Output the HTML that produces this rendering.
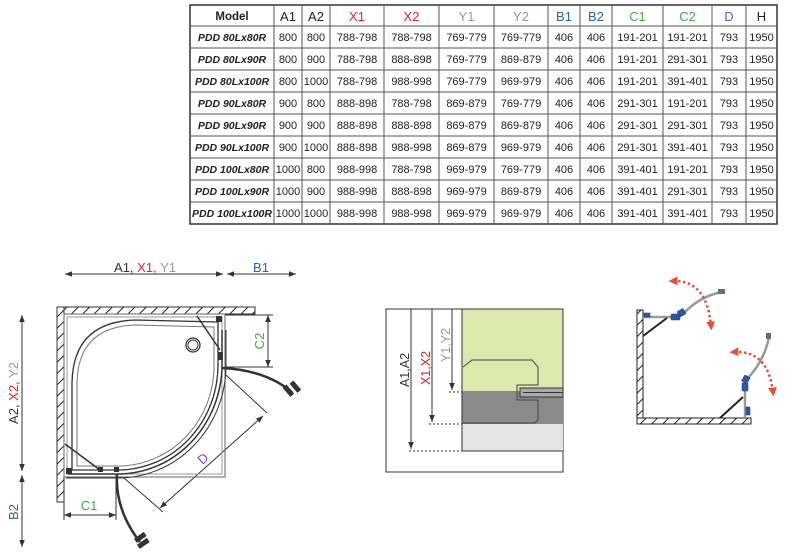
<!DOCTYPE html>
<html><head><meta charset="utf-8"><style>
html,body{margin:0;padding:0;background:#fff}
svg{display:block}
text{font-family:"Liberation Sans","DejaVu Sans",sans-serif}
</style></head><body>
<svg width="786" height="556" viewBox="0 0 786 556" xmlns="http://www.w3.org/2000/svg">
<defs>
<pattern id="hatch" width="8" height="8" patternUnits="userSpaceOnUse" patternTransform="rotate(45)">
<rect width="8" height="8" fill="#fff"/><line x1="0" y1="0" x2="0" y2="8" stroke="#222" stroke-width="2"/></pattern>
<marker id="ar" viewBox="0 0 10 10" refX="10" refY="5" markerWidth="7" markerHeight="7" orient="auto-start-reverse"><path d="M0,1 L10,5 L0,9 z" fill="#333"/></marker>
<marker id="rr" viewBox="0 0 10 10" refX="5" refY="5" markerUnits="userSpaceOnUse" markerWidth="9" markerHeight="9" orient="auto-start-reverse"><path d="M0,0 L10,5 L0,10 z" fill="#e0533f"/></marker>
</defs>

<!-- TABLE -->
<g stroke="#555" stroke-width="1" fill="none">
<rect x="190" y="5" width="587" height="219" stroke="#333" stroke-width="1.5"/>
<line x1="190" y1="26" x2="777" y2="26"/><line x1="190" y1="48" x2="777" y2="48"/>
<line x1="190" y1="70" x2="777" y2="70"/><line x1="190" y1="92" x2="777" y2="92"/>
<line x1="190" y1="114" x2="777" y2="114"/><line x1="190" y1="136" x2="777" y2="136"/>
<line x1="190" y1="158" x2="777" y2="158"/><line x1="190" y1="180" x2="777" y2="180"/>
<line x1="190" y1="202" x2="777" y2="202"/>
<line x1="274" y1="5" x2="274" y2="224"/><line x1="302" y1="5" x2="302" y2="224"/>
<line x1="330" y1="5" x2="330" y2="224"/><line x1="384" y1="5" x2="384" y2="224"/>
<line x1="439" y1="5" x2="439" y2="224"/><line x1="494" y1="5" x2="494" y2="224"/>
<line x1="548" y1="5" x2="548" y2="224"/><line x1="580" y1="5" x2="580" y2="224"/>
<line x1="612" y1="5" x2="612" y2="224"/><line x1="663" y1="5" x2="663" y2="224"/>
<line x1="712" y1="5" x2="712" y2="224"/><line x1="746" y1="5" x2="746" y2="224"/>
</g>
<g text-anchor="middle" font-size="13">
<text x="232" y="20" font-size="11.5" font-weight="bold" fill="#222">Model</text>
<text x="288" y="21" fill="#222">A1</text><text x="316" y="21" fill="#222">A2</text>
<text x="357" y="21" fill="#d9262b">X1</text><text x="411.5" y="21" fill="#d9262b">X2</text>
<text x="466.5" y="21" fill="#999">Y1</text><text x="521" y="21" fill="#999">Y2</text>
<text x="564" y="21" fill="#2a64b0">B1</text><text x="596" y="21" fill="#2a64b0">B2</text>
<text x="637.5" y="21" fill="#3bb03b">C1</text><text x="687.5" y="21" fill="#3bb03b">C2</text>
<text x="729" y="21" fill="#7b4fbf">D</text><text x="761.5" y="21" fill="#222">H</text>
</g>
<g text-anchor="middle" font-size="11" fill="#222">
<g font-weight="bold" font-style="italic" font-size="10.5">
<text x="232" y="41">PDD 80Lx80R</text><text x="232" y="63">PDD 80Lx90R</text><text x="232" y="85">PDD 80Lx100R</text>
<text x="232" y="107">PDD 90Lx80R</text><text x="232" y="129">PDD 90Lx90R</text><text x="232" y="151">PDD 90Lx100R</text>
<text x="232" y="173">PDD 100Lx80R</text><text x="232" y="195">PDD 100Lx90R</text><text x="232" y="217">PDD 100Lx100R</text>
</g>
<text y="41"><tspan x="288">800</tspan><tspan x="316">800</tspan><tspan x="357">788-798</tspan><tspan x="411.5">788-798</tspan><tspan x="466.5">769-779</tspan><tspan x="521">769-779</tspan><tspan x="564">406</tspan><tspan x="596">406</tspan><tspan x="637.5">191-201</tspan><tspan x="687.5">191-201</tspan><tspan x="729">793</tspan><tspan x="761.5">1950</tspan></text>
<text y="63"><tspan x="288">800</tspan><tspan x="316">900</tspan><tspan x="357">788-798</tspan><tspan x="411.5">888-898</tspan><tspan x="466.5">769-779</tspan><tspan x="521">869-879</tspan><tspan x="564">406</tspan><tspan x="596">406</tspan><tspan x="637.5">191-201</tspan><tspan x="687.5">291-301</tspan><tspan x="729">793</tspan><tspan x="761.5">1950</tspan></text>
<text y="85"><tspan x="288">800</tspan><tspan x="316">1000</tspan><tspan x="357">788-798</tspan><tspan x="411.5">988-998</tspan><tspan x="466.5">769-779</tspan><tspan x="521">969-979</tspan><tspan x="564">406</tspan><tspan x="596">406</tspan><tspan x="637.5">191-201</tspan><tspan x="687.5">391-401</tspan><tspan x="729">793</tspan><tspan x="761.5">1950</tspan></text>
<text y="107"><tspan x="288">900</tspan><tspan x="316">800</tspan><tspan x="357">888-898</tspan><tspan x="411.5">788-798</tspan><tspan x="466.5">869-879</tspan><tspan x="521">769-779</tspan><tspan x="564">406</tspan><tspan x="596">406</tspan><tspan x="637.5">291-301</tspan><tspan x="687.5">191-201</tspan><tspan x="729">793</tspan><tspan x="761.5">1950</tspan></text>
<text y="129"><tspan x="288">900</tspan><tspan x="316">900</tspan><tspan x="357">888-898</tspan><tspan x="411.5">888-898</tspan><tspan x="466.5">869-879</tspan><tspan x="521">869-879</tspan><tspan x="564">406</tspan><tspan x="596">406</tspan><tspan x="637.5">291-301</tspan><tspan x="687.5">291-301</tspan><tspan x="729">793</tspan><tspan x="761.5">1950</tspan></text>
<text y="151"><tspan x="288">900</tspan><tspan x="316">1000</tspan><tspan x="357">888-898</tspan><tspan x="411.5">988-998</tspan><tspan x="466.5">869-879</tspan><tspan x="521">969-979</tspan><tspan x="564">406</tspan><tspan x="596">406</tspan><tspan x="637.5">291-301</tspan><tspan x="687.5">391-401</tspan><tspan x="729">793</tspan><tspan x="761.5">1950</tspan></text>
<text y="173"><tspan x="288">1000</tspan><tspan x="316">800</tspan><tspan x="357">988-998</tspan><tspan x="411.5">788-798</tspan><tspan x="466.5">969-979</tspan><tspan x="521">769-779</tspan><tspan x="564">406</tspan><tspan x="596">406</tspan><tspan x="637.5">391-401</tspan><tspan x="687.5">191-201</tspan><tspan x="729">793</tspan><tspan x="761.5">1950</tspan></text>
<text y="195"><tspan x="288">1000</tspan><tspan x="316">900</tspan><tspan x="357">988-998</tspan><tspan x="411.5">888-898</tspan><tspan x="466.5">969-979</tspan><tspan x="521">869-879</tspan><tspan x="564">406</tspan><tspan x="596">406</tspan><tspan x="637.5">391-401</tspan><tspan x="687.5">291-301</tspan><tspan x="729">793</tspan><tspan x="761.5">1950</tspan></text>
<text y="217"><tspan x="288">1000</tspan><tspan x="316">1000</tspan><tspan x="357">988-998</tspan><tspan x="411.5">988-998</tspan><tspan x="466.5">969-979</tspan><tspan x="521">969-979</tspan><tspan x="564">406</tspan><tspan x="596">406</tspan><tspan x="637.5">391-401</tspan><tspan x="687.5">391-401</tspan><tspan x="729">793</tspan><tspan x="761.5">1950</tspan></text>
</g>

<!-- LEFT DIAGRAM -->
<g stroke="#333" stroke-width="1" fill="none">
<line x1="65" y1="274" x2="223" y2="274" marker-start="url(#ar)" marker-end="url(#ar)"/>
<line x1="227" y1="274" x2="296" y2="274" marker-start="url(#ar)" marker-end="url(#ar)"/>
<line x1="22" y1="315" x2="22" y2="471" marker-start="url(#ar)" marker-end="url(#ar)"/>
<line x1="22" y1="475" x2="22" y2="547" marker-start="url(#ar)" marker-end="url(#ar)"/>
<line x1="268" y1="315" x2="268" y2="367" marker-start="url(#ar)" marker-end="url(#ar)"/>
<line x1="225" y1="315" x2="273" y2="315"/><line x1="225" y1="367" x2="273" y2="367"/>
<line x1="64" y1="515" x2="116" y2="515" marker-start="url(#ar)" marker-end="url(#ar)"/>
<line x1="64" y1="477" x2="64" y2="520"/><line x1="116" y1="477" x2="116" y2="520"/>
<line x1="160" y1="508" x2="263" y2="416" marker-start="url(#ar)" marker-end="url(#ar)"/>
<line x1="226" y1="375" x2="267" y2="413"/><line x1="124" y1="478" x2="163" y2="512"/>
</g>
<rect x="57" y="307" width="198" height="7" fill="url(#hatch)" stroke="#333"/>
<rect x="57" y="307" width="7" height="195" fill="url(#hatch)" stroke="#333"/>
<g fill="none" stroke="#333">
<rect x="64" y="314" width="161" height="163" stroke="#666"/>
<rect x="67" y="317" width="155" height="157" stroke="#999"/>
<path d="M72,470 L72,385 Q72,322 135,320 L218,322 L218,365 A100,105 0 0 1 120,470 Z" stroke-width="1.3"/>
<path d="M77,466 L77,385 Q77,327 135,325 L214,327 L214,365 A96,100 0 0 1 120,466 Z" stroke="#777"/>
<path d="M222,330 L222,368 A104,110 0 0 1 118,474 L68,474" stroke-width="1.5"/>
<path d="M226,330 L226,368 A108,113 0 0 1 118,478 L66,478" stroke-width="1"/>
<circle cx="193" cy="345" r="7" stroke-width="1.3"/><circle cx="193" cy="345" r="5"/>
<line x1="197" y1="316" x2="220" y2="350" stroke-width="1.5"/>
<line x1="65" y1="444" x2="100" y2="470" stroke-width="1.5"/>
<path d="M222,368 Q265,370 292,392" stroke-width="2.5"/>
<path d="M117,474 Q115,510 140,542" stroke-width="2.5"/>
</g>
<g fill="#333"><rect x="286" y="385" width="5" height="12" transform="rotate(-40 288 391)"/><rect x="293" y="381" width="5" height="12" transform="rotate(-40 295 387)"/>
<rect x="134" y="535" width="12" height="5" transform="rotate(-35 140 537)"/><rect x="137" y="541" width="12" height="5" transform="rotate(-35 143 543)"/>
<rect x="216" y="316" width="6" height="6"/><rect x="66" y="468" width="6" height="6"/><rect x="98" y="467" width="5" height="5"/><rect x="114" y="467" width="5" height="5"/><rect x="218" y="352" width="5" height="8"/></g>
<text x="145" y="272" font-size="13" text-anchor="middle" fill="#333">A1, <tspan fill="#d9262b">X1,</tspan> <tspan fill="#999">Y1</tspan></text>
<text x="261" y="272" font-size="13" text-anchor="middle" fill="#2a64b0">B1</text>
<text transform="translate(18,393) rotate(-90)" font-size="13" text-anchor="middle" fill="#333">A2, <tspan fill="#d9262b">X2,</tspan> <tspan fill="#999">Y2</tspan></text>
<text transform="translate(18,512) rotate(-90)" font-size="13" text-anchor="middle" fill="#2a64b0">B2</text>
<text transform="translate(264,341) rotate(-90)" font-size="13" text-anchor="middle" fill="#3bb03b">C2</text>
<text x="89" y="510" font-size="13" text-anchor="middle" fill="#3bb03b">C1</text>
<text transform="translate(206,462) rotate(-42)" font-size="13" text-anchor="middle" fill="#7b4fbf">D</text>

<!-- MIDDLE DIAGRAM -->
<rect x="386" y="309" width="177" height="163" fill="#fff" stroke="#333"/>
<rect x="462" y="309" width="101" height="83" fill="#dde8ae" stroke="#333"/>
<rect x="462" y="392" width="101" height="32" fill="#8a8a8a"/>
<rect x="462" y="424" width="101" height="27" fill="#e4e4e4"/>
<line x1="462" y1="451" x2="563" y2="451" stroke="#333"/>
<line x1="462" y1="392" x2="462" y2="451" stroke="#333"/>
<path d="M463,367 L472,360 L532,360 L538,367 L538,385 L517,385 L517,400 L538,400 L538,420 L535,423 L463,423" fill="none" stroke="#444"/>
<rect x="520" y="388" width="43" height="9" fill="#aaa" stroke="#333"/><line x1="523" y1="392.5" x2="563" y2="392.5" stroke="#333"/>
<g stroke="#333" fill="none">
<line x1="411" y1="309" x2="411" y2="449" marker-end="url(#ar)"/>
<line x1="432" y1="309" x2="432" y2="422" marker-end="url(#ar)"/>
<line x1="452" y1="309" x2="452" y2="390" marker-end="url(#ar)"/>
<g stroke-dasharray="2,2"><line x1="409" y1="451" x2="462" y2="451"/><line x1="429" y1="424" x2="462" y2="424"/><line x1="449" y1="392" x2="462" y2="392"/></g>
</g>
<text transform="translate(409,370) rotate(-90)" font-size="12.5" text-anchor="middle" fill="#333">A1,A2</text>
<text transform="translate(430,368) rotate(-90)" font-size="12.5" text-anchor="middle" fill="#d9262b">X1,X2</text>
<text transform="translate(450,345) rotate(-90)" font-size="12.5" text-anchor="middle" fill="#999">Y1,Y2</text>

<!-- RIGHT DIAGRAM -->
<rect x="637" y="310" width="6" height="114" fill="url(#hatch)" stroke="#222"/>
<rect x="637" y="418" width="114" height="6" fill="url(#hatch)" stroke="#222"/>
<g fill="none">
<line x1="643" y1="317" x2="672" y2="317" stroke="#999" stroke-width="2.5"/>
<line x1="643" y1="336" x2="667" y2="318" stroke="#222" stroke-width="2"/>
<path d="M683,314 Q700,296 722,292" stroke="#999" stroke-width="2.5"/>
<line x1="745" y1="418" x2="745" y2="388" stroke="#999" stroke-width="2.5"/>
<line x1="720" y1="418" x2="743" y2="397" stroke="#222" stroke-width="2"/>
<path d="M746,380 Q764,362 769,337" stroke="#999" stroke-width="2.5"/>
<path d="M673,281 Q707,280 711,326" stroke="#e0533f" stroke-width="2.5" stroke-dasharray="2.5,2.5" marker-start="url(#rr)" marker-end="url(#rr)"/>
<path d="M734,352 Q768,350 773,392" stroke="#e0533f" stroke-width="2.5" stroke-dasharray="2.5,2.5" marker-start="url(#rr)" marker-end="url(#rr)"/>
</g>
<g fill="#2d5a9a" stroke="#1d3a6a" stroke-width="0.5">
<rect x="644" y="313" width="6" height="4"/>
<rect x="671" y="314" width="9" height="6" rx="1"/><rect x="678" y="310" width="7" height="6" rx="1" transform="rotate(-30 681 313)"/>
<rect x="742" y="383" width="6" height="8" rx="1"/><rect x="743" y="376" width="6" height="7" rx="1" transform="rotate(30 746 379)"/>
<rect x="746" y="407" width="4" height="8"/>
</g>
<g fill="#5a6f8a"><rect x="718" y="289" width="7" height="5"/><rect x="766" y="333" width="5" height="6"/></g>
</svg>
</body></html>
